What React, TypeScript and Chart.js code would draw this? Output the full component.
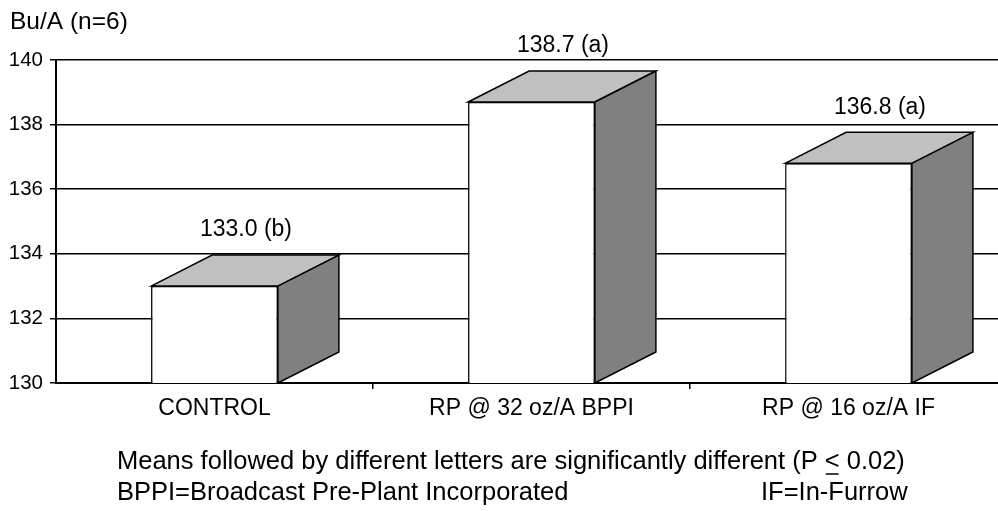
import React, { useEffect, useRef } from "react";
import { Chart, registerables } from "chart.js";

Chart.register(...registerables);

// ---- data ----
const categories = ["CONTROL", "RP @ 32 oz/A BPPI", "RP @ 16 oz/A IF"];
const yields = [133.0, 138.7, 136.8];
const letters = ["b", "a", "a"];
const yMin = 130;
const yMax = 140;
const yStep = 2;
const yAxisTitle = "Bu/A (n=6)";
const noteLine1Before = "Means followed by different letters are significantly different (P ";
const noteLine1Symbol = "<";
const noteLine1After = " 0.02)";
const noteLine2Left = "BPPI=Broadcast Pre-Plant Incorporated";
const noteLine2Right = "IF=In-Furrow";

// ---- style ----
const FONT = '"Liberation Sans", Arial, Helvetica, sans-serif';
const DEPTH_X = 61;
const DEPTH_Y = 31;
const CANVAS_W = 1020;
const CANVAS_H = 511;

const bar3dPlugin = {
  id: "bar3d",
  afterDatasetsDraw(chart: any) {
    const ctx = chart.ctx as CanvasRenderingContext2D;
    const meta = chart.getDatasetMeta(0);
    const bottom = chart.chartArea.bottom;
    meta.data.forEach((bar: any, i: number) => {
      const p = bar.getProps(["x", "y", "base", "width"], true);
      const x = p.x;
      const y = p.y;
      const width = p.width;
      const base = Math.min(p.base, bottom);
      const l = x - width / 2;
      const r = x + width / 2;
      ctx.save();
      ctx.lineWidth = 1.5;
      ctx.strokeStyle = "#000";
      ctx.lineJoin = "miter";
      // top face
      ctx.beginPath();
      ctx.moveTo(l, y);
      ctx.lineTo(l + DEPTH_X, y - DEPTH_Y);
      ctx.lineTo(r + DEPTH_X, y - DEPTH_Y);
      ctx.lineTo(r, y);
      ctx.closePath();
      ctx.fillStyle = "#c0c0c0";
      ctx.fill();
      ctx.stroke();
      // side face
      ctx.beginPath();
      ctx.moveTo(r, y);
      ctx.lineTo(r + DEPTH_X, y - DEPTH_Y);
      ctx.lineTo(r + DEPTH_X, base - DEPTH_Y);
      ctx.lineTo(r, base);
      ctx.closePath();
      ctx.fillStyle = "#808080";
      ctx.fill();
      ctx.stroke();
      // value label
      ctx.fillStyle = "#000";
      ctx.font = `23px ${FONT}`;
      ctx.textAlign = "center";
      ctx.textBaseline = "middle";
      ctx.fillText(`${yields[i].toFixed(1)} (${letters[i]})`, x + DEPTH_X / 2 + 1, y - DEPTH_Y - 25);
      ctx.restore();
    });
  },
  afterDraw(chart: any) {
    const ctx = chart.ctx as CanvasRenderingContext2D;
    ctx.save();
    ctx.fillStyle = "#000";
    ctx.strokeStyle = "#000";
    ctx.textAlign = "left";
    ctx.textBaseline = "middle";
    ctx.font = `24.5px ${FONT}`;
    ctx.fillText(yAxisTitle, 10, 22);

    ctx.font = `25.5px ${FONT}`;
    const x0 = 117;
    const y1 = 462;
    ctx.fillText(noteLine1Before, x0, y1);
    const w1 = ctx.measureText(noteLine1Before).width;
    ctx.fillText(noteLine1Symbol, x0 + w1, y1);
    const ws = ctx.measureText(noteLine1Symbol).width;
    ctx.lineWidth = 1.5;
    ctx.beginPath();
    ctx.moveTo(x0 + w1 + 1, y1 + 12);
    ctx.lineTo(x0 + w1 + ws - 1, y1 + 12);
    ctx.stroke();
    ctx.fillText(noteLine1After, x0 + w1 + ws, y1);

    const y2 = 493;
    ctx.fillText(noteLine2Left, x0, y2);
    ctx.fillText(noteLine2Right, 761, y2);
    ctx.restore();
  },
};

export default function App() {
  const ref = useRef<HTMLCanvasElement | null>(null);

  useEffect(() => {
    if (!ref.current) return;
    const chart = new Chart(ref.current, {
      type: "bar",
      data: {
        labels: categories,
        datasets: [
          {
            data: yields,
            backgroundColor: "#ffffff",
            borderColor: "#000000",
            borderWidth: 1.5,
            borderSkipped: false,
            categoryPercentage: 1,
            barPercentage: 0.4,
          },
        ],
      },
      options: {
        animation: false,
        responsive: false,
        maintainAspectRatio: false,
        layout: { padding: { top: 60, right: 13, left: 0, bottom: 0 } },
        plugins: {
          legend: { display: false },
          tooltip: { enabled: false },
          title: { display: false },
        },
        scales: {
          x: {
            type: "category",
            grid: {
              offset: true,
              drawOnChartArea: false,
              drawTicks: true,
              tickLength: 6,
              lineWidth: 1.5,
              color: (c: any) => (c.index === 0 ? "rgba(0,0,0,0)" : "#000"),
            },
            border: { display: true, color: "#000", width: 2 },
            ticks: {
              color: "#000",
              font: { family: FONT, size: 23 },
              padding: 6,
              maxRotation: 0,
              autoSkip: false,
            },
            afterFit: (scale: any) => {
              scale.height = CANVAS_H - 383;
            },
          },
          y: {
            min: yMin,
            max: yMax,
            grid: {
              color: "#000",
              lineWidth: 1.5,
              drawTicks: true,
              tickLength: 6,
            },
            border: { display: true, color: "#000", width: 2 },
            ticks: {
              stepSize: yStep,
              color: "#000",
              font: { family: FONT, size: 20.5 },
              padding: 7,
            },
            afterFit: (scale: any) => {
              scale.width = 56;
            },
          },
        },
      },
      plugins: [bar3dPlugin],
    });
    return () => chart.destroy();
  }, []);

  return (
    <div
      style={{
        position: "fixed",
        left: 0,
        top: 0,
        width: 998,
        height: 511,
        overflow: "hidden",
        background: "#fff",
      }}
    >
      <canvas ref={ref} width={CANVAS_W} height={CANVAS_H} style={{ width: CANVAS_W, height: CANVAS_H, display: "block" }} />
    </div>
  );
}
